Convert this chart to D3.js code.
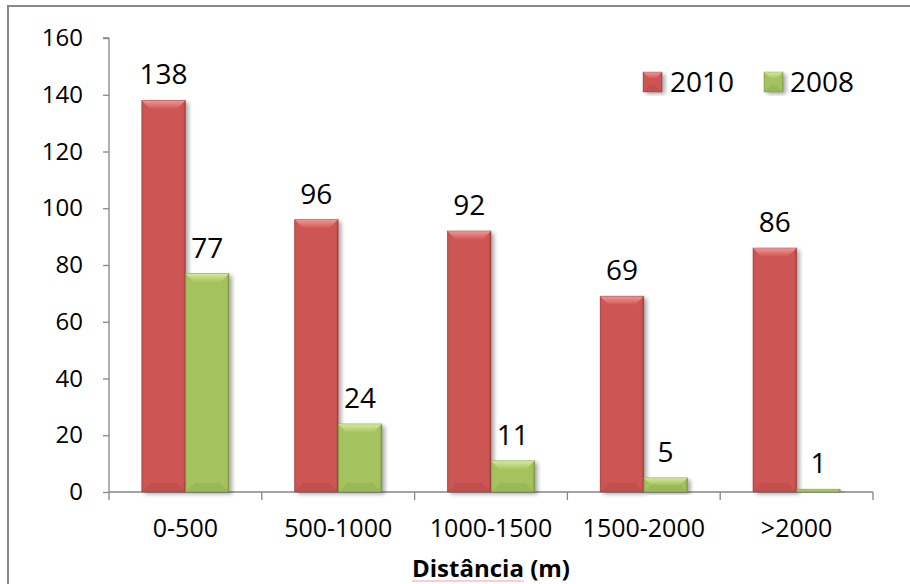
<!DOCTYPE html>
<html>
<head>
<meta charset="utf-8">
<script src="https://cdn.jsdelivr.net/npm/d3@7/dist/d3.min.js"></script>
<style>
  html, body { margin: 0; padding: 0; background: #fff; }
  svg { display: block; font-family: "Open Sans", "Lato", sans-serif; }
</style>
</head>
<body>
<svg id="chart" width="910" height="584"></svg>
<script>
// Distance bands and counts per year
const categories = ["0-500", "500-1000", "1000-1500", "1500-2000", ">2000"];
const seriesNames = ["2010", "2008"];
const values2010 = [138, 96, 92, 69, 86];
const values2008 = [77, 24, 11, 5, 1];
const yTicks = [0, 20, 40, 60, 80, 100, 120, 140, 160];
const axisTitle = "Distância (m)";

const palette = {
  "2010": { base: "#CD5453", light: "#EE9A99", dark: "#8E3534" },
  "2008": { base: "#A4C35E", light: "#D6EA9C", dark: "#6F8838" }
};

const data = categories.map((c, i) => ({
  category: c,
  values: [
    { series: "2010", value: values2010[i] },
    { series: "2008", value: values2008[i] }
  ]
}));

const svg = d3.select("#chart");
const plot = { left: 109, right: 873, top: 38, bottom: 492 };

// Outer chart frame (right and bottom edges run past the page)
svg.append("rect")
  .attr("x", 8).attr("y", 6)
  .attr("width", 960).attr("height", 640)
  .attr("fill", "none")
  .attr("stroke", "#878787")
  .attr("stroke-width", 2);

const x0 = d3.scaleBand().domain(categories).range([plot.left, plot.right]).padding(0);
const x1 = d3.scaleBand().domain(seriesNames).range([0, x0.bandwidth()])
  .paddingInner(0).paddingOuter(0.75);
const y = d3.scaleLinear().domain([0, 160]).range([plot.bottom, plot.top]);

const defs = svg.append("defs");
const shadow = defs.append("filter").attr("id", "shadow")
  .attr("x", "-20%").attr("y", "-10%").attr("width", "150%").attr("height", "130%");
shadow.append("feGaussianBlur").attr("in", "SourceAlpha").attr("stdDeviation", 2.2).attr("result", "b");
shadow.append("feOffset").attr("in", "b").attr("dx", 2.5).attr("dy", 2).attr("result", "o");
shadow.append("feComponentTransfer").attr("in", "o").attr("result", "s")
  .append("feFuncA").attr("type", "linear").attr("slope", 0.35);
const merge = shadow.append("feMerge");
merge.append("feMergeNode").attr("in", "s");
merge.append("feMergeNode").attr("in", "SourceGraphic");

seriesNames.forEach(s => {
  const c = palette[s];
  const gTop = defs.append("linearGradient").attr("id", "top" + s)
    .attr("x1", 0).attr("y1", 0).attr("x2", 0).attr("y2", 1);
  gTop.append("stop").attr("offset", "0%").attr("stop-color", c.light);
  gTop.append("stop").attr("offset", "100%").attr("stop-color", c.base);
  const gSide = defs.append("linearGradient").attr("id", "side" + s)
    .attr("x1", 0).attr("y1", 0).attr("x2", 1).attr("y2", 0);
  gSide.append("stop").attr("offset", "0%").attr("stop-color", c.dark).attr("stop-opacity", 0.55);
  gSide.append("stop").attr("offset", "5%").attr("stop-color", c.base).attr("stop-opacity", 0);
  gSide.append("stop").attr("offset", "93%").attr("stop-color", c.base).attr("stop-opacity", 0);
  gSide.append("stop").attr("offset", "100%").attr("stop-color", c.dark).attr("stop-opacity", 0.85);
});

// Axes
const yAxis = d3.axisLeft(y).tickValues(yTicks).tickSize(6).tickPadding(20);
const gy = svg.append("g").attr("transform", `translate(${plot.left},0)`).call(yAxis);
gy.select(".domain").attr("stroke", "#868686").attr("stroke-width", 1.3)
  .attr("d", `M0,${plot.top}H-6M0,${plot.top}V${plot.bottom}`);
gy.selectAll(".tick line").attr("stroke", "#868686").attr("stroke-width", 1.3);
gy.selectAll(".tick text").attr("font-size", 24).attr("fill", "#000")
  .attr("font-family", "'Open Sans', sans-serif");

const boundaries = categories.map(c => x0(c)).concat([plot.right]);
const gx = svg.append("g");
gx.append("line")
  .attr("x1", plot.left).attr("x2", plot.right)
  .attr("y1", plot.bottom).attr("y2", plot.bottom)
  .attr("stroke", "#868686").attr("stroke-width", 1.3);
gx.selectAll("line.tick").data(boundaries).join("line").attr("class", "tick")
  .attr("x1", d => d).attr("x2", d => d)
  .attr("y1", plot.bottom).attr("y2", plot.bottom + 8)
  .attr("stroke", "#868686").attr("stroke-width", 1.3);
gx.selectAll("text").data(categories).join("text")
  .attr("x", d => x0(d) + x0.bandwidth() / 2)
  .attr("y", 537)
  .attr("text-anchor", "middle")
  .attr("font-size", 25)
  .text(d => d);

// Bars with bevelled edges
function bevelBar(g, xPos, w, yTop, yBot, s, bevelMax) {
  const c = palette[s];
  const h = yBot - yTop;
  const bv = Math.min(bevelMax, h / 2);
  g.append("rect").attr("x", xPos).attr("y", yTop).attr("width", w).attr("height", h)
    .attr("fill", c.base).attr("filter", "url(#shadow)");
  g.append("rect").attr("x", xPos).attr("y", yTop).attr("width", w).attr("height", h)
    .attr("fill", `url(#side${s})`);
  if (h > 3) {
    g.append("path")
      .attr("d", `M${xPos},${yTop}H${xPos + w}L${xPos + w - bv},${yTop + bv}H${xPos + bv}Z`)
      .attr("fill", `url(#top${s})`);
    g.append("path")
      .attr("d", `M${xPos},${yBot}H${xPos + w}L${xPos + w - bv},${yBot - bv}H${xPos + bv}Z`)
      .attr("fill", c.dark).attr("opacity", 0.18);
  }
  g.append("rect").attr("x", xPos).attr("y", yTop).attr("width", w).attr("height", h)
    .attr("fill", "none").attr("stroke", c.dark).attr("stroke-opacity", 0.45).attr("stroke-width", 0.8);
}

const groups = svg.append("g").selectAll("g").data(data).join("g")
  .attr("transform", d => `translate(${x0(d.category)},0)`);

groups.each(function(d) {
  const g = d3.select(this);
  d.values.forEach(v => {
    bevelBar(g, x1(v.series), x1.bandwidth(), y(v.value), y(0), v.series, 9);
  });
  g.selectAll("text.val").data(d.values).join("text").attr("class", "val")
    .attr("x", v => x1(v.series) + x1.bandwidth() / 2)
    .attr("y", v => y(v.value) - 16)
    .attr("text-anchor", "middle")
    .attr("font-size", 28)
    .text(v => v.value);
});

// Legend
const legend = svg.append("g");
const legendItems = [
  { s: "2010", x: 643, tx: 670 },
  { s: "2008", x: 764, tx: 790 }
];
legendItems.forEach(it => {
  const lg = legend.append("g");
  bevelBar(lg, it.x, 19, 72, 92, it.s, 7);
  lg.append("text").attr("x", it.tx).attr("y", 92)
    .attr("font-size", 28).text(it.s);
});

// Axis title with proofing underline under the first word
const title = svg.append("text")
  .attr("x", (plot.left + plot.right) / 2)
  .attr("y", 577)
  .attr("text-anchor", "middle")
  .attr("font-size", 24)
  .attr("font-weight", "bold")
  .text(axisTitle);
const tb = title.node().getBBox();
const firstWordWidth = (() => {
  const t = svg.append("text").attr("font-size", 24).attr("font-weight", "bold").text("Distância");
  const w = t.node().getComputedTextLength();
  t.remove();
  return w;
})();
svg.append("line")
  .attr("x1", tb.x).attr("x2", tb.x + firstWordWidth)
  .attr("y1", 581).attr("y2", 581)
  .attr("stroke", "#F0A0A8").attr("stroke-width", 1.2);
</script>
</body>
</html>
